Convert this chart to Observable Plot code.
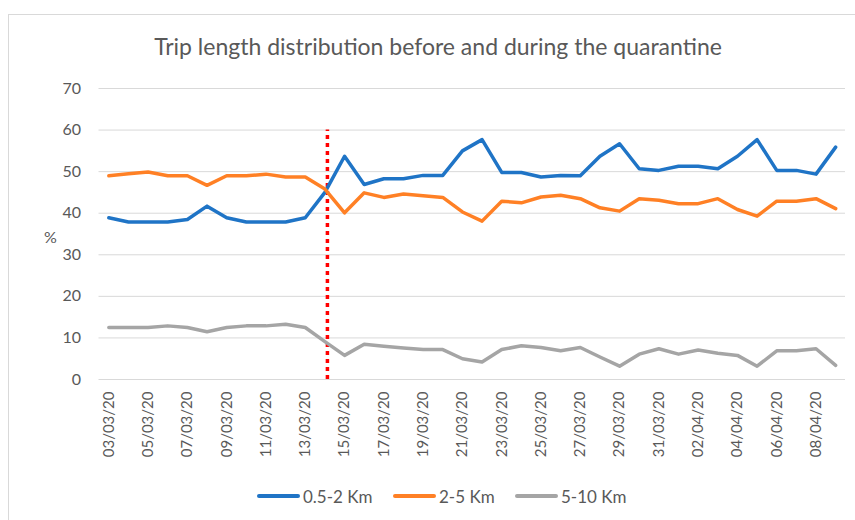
<!DOCTYPE html>
<html>
<head>
<meta charset="utf-8">
<script src="https://cdn.jsdelivr.net/npm/d3@7"></script>
<script src="https://cdn.jsdelivr.net/npm/@observablehq/plot@0.6"></script>
<style>
  body { margin: 0; background: #fff; font-family: Lato, "Open Sans", sans-serif; }
  #frame { position: relative; width: 855px; height: 520px; overflow: hidden; }
  #box { position: absolute; left: 8px; top: 14px; width: 900px; height: 600px; border-left: 1px solid #d9d9d9; border-top: 1px solid #d9d9d9; }
  #title { position: absolute; left: 0; width: 876px; top: 32px; text-align: center; font-size: 23px; color: #595959; }
  #chart { position: absolute; left: 0; top: 70px; }
  #ylab { position: absolute; left: 44px; top: 227px; font-size: 16px; color: #595959; }
  #legend { position: absolute; top: 484px; left: 0; width: 855px; height: 24px; font-size: 17px; color: #595959; }
  .item { position: absolute; top: 0; display: flex; align-items: center; height: 24px; }
  .sw { width: 43px; height: 4px; border-radius: 2px; margin-right: 3px; }
</style>
</head>
<body>
<div id="frame">
  <div id="box"></div>
  <div id="title">Trip length distribution before and during the quarantine</div>
  <div id="chart"></div>
  <div id="ylab">%</div>
  <div id="legend"></div>
</div>
<script>
const dates = ["03/03/20","04/03/20","05/03/20","06/03/20","07/03/20","08/03/20","09/03/20","10/03/20","11/03/20","12/03/20",
  "13/03/20","14/03/20","15/03/20","16/03/20","17/03/20","18/03/20","19/03/20","20/03/20","21/03/20","22/03/20",
  "23/03/20","24/03/20","25/03/20","26/03/20","27/03/20","28/03/20","29/03/20","30/03/20","31/03/20","01/04/20",
  "02/04/20","03/04/20","04/04/20","05/04/20","06/04/20","07/04/20","08/04/20","09/04/20"];
const short = [38.9,37.9,37.9,37.9,38.5,41.7,38.9,37.9,37.9,37.9,
  38.9,45.0,53.7,46.9,48.3,48.3,49.1,49.1,55.0,57.7,
  49.8,49.8,48.7,49.1,49.0,53.7,56.7,50.7,50.3,51.3,
  51.3,50.7,53.7,57.7,50.3,50.3,49.4,55.9];
const medium = [49.0,49.5,49.9,49.0,49.0,46.7,49.0,49.0,49.4,48.7,
  48.7,45.8,40.1,44.9,43.8,44.6,44.2,43.8,40.3,38.1,
  42.9,42.5,43.9,44.3,43.5,41.3,40.5,43.5,43.1,42.3,
  42.3,43.5,40.9,39.3,42.9,42.9,43.5,41.1];
const long = [12.5,12.5,12.5,12.9,12.5,11.5,12.5,12.9,12.9,13.3,
  12.5,9.1,5.8,8.5,8.0,7.6,7.2,7.2,5.0,4.2,
  7.2,8.1,7.7,6.9,7.7,5.4,3.2,6.1,7.4,6.1,
  7.1,6.3,5.8,3.2,6.9,6.9,7.4,3.4];
const seriesNames = ["0.5-2 Km","2-5 Km","5-10 Km"];
const seriesColors = ["#1f74c6","#ff8025","#a5a5a5"];
const yTicks = [0,10,20,30,40,50,60,70];
const xTicks = dates.filter((d, i) => i % 2 === 0 && i < 37);
const quarantineDate = "14/03/20";
const quarantineSpan = [0, 60];

const rows = [];
[short, medium, long].forEach((vals, s) => vals.forEach((v, i) => rows.push({date: dates[i], value: v, series: seriesNames[s]})));

const chart = Plot.plot({
  width: 855,
  height: 410,
  marginTop: 18,
  marginLeft: 98.5,
  marginRight: 10,
  marginBottom: 101,
  style: {fontFamily: "Lato, 'Open Sans', sans-serif", fontSize: "15px", color: "#595959", background: "transparent"},
  x: {type: "point", domain: dates, padding: 0.5, round: false},
  y: {domain: [0, 70]},
  color: {domain: seriesNames, range: seriesColors},
  marks: [
    Plot.gridY(yTicks, {stroke: "#d9d9d9", strokeOpacity: 1, strokeWidth: 1}),
    Plot.axisY(yTicks, {tickSize: 0, tickPadding: 18, label: null, fill: "#595959", fontSize: 16}),
    Plot.axisX(xTicks, {tickSize: 0, tickPadding: 12, tickRotate: -90, label: null, fill: "#595959", fontSize: 15}),
    Plot.ruleX([quarantineDate], {y1: quarantineSpan[0], y2: quarantineSpan[1], dx: 2.5, stroke: "#ff0000", strokeWidth: 3.5, strokeDasharray: "4,4"}),
    Plot.line(rows, {x: "date", y: "value", z: "series", stroke: "series", strokeWidth: 3.5, strokeLinejoin: "round", strokeLinecap: "round"})
  ]
});
document.getElementById("chart").appendChild(chart);

const legend = document.getElementById("legend");
const legendLeft = [257, 393, 515];
seriesNames.forEach((n, i) => {
  const it = document.createElement("div");
  it.className = "item";
  it.style.left = legendLeft[i] + "px";
  it.innerHTML = `<span class="sw" style="background:${seriesColors[i]}"></span><span>${n}</span>`;
  legend.appendChild(it);
});
</script>
</body>
</html>
